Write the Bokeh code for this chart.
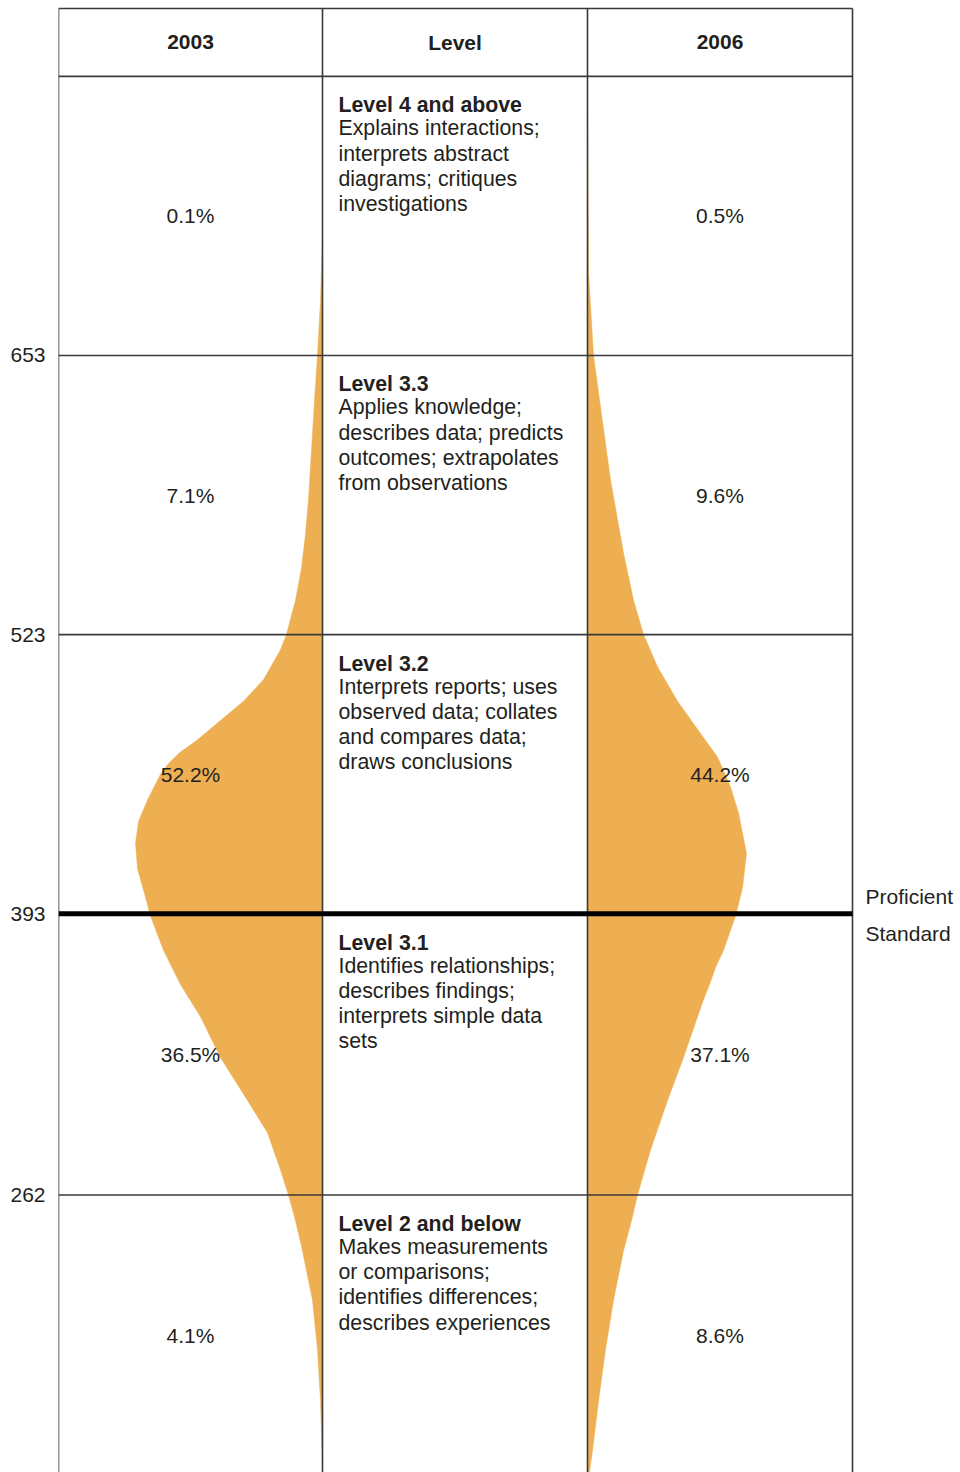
from bokeh.plotting import figure
from bokeh.models import Range1d, FixedTicker
from bokeh.core.properties import value
from bokeh.embed import file_html
from bokeh.resources import INLINE

# ---------------- data ----------------
columns = ["2003", "Level", "2006"]
levels = ["Level 4 and above", "Level 3.3", "Level 3.2", "Level 3.1", "Level 2 and below"]
descriptions = [
    "Explains interactions;\ninterprets abstract\ndiagrams; critiques\ninvestigations",
    "Applies knowledge;\ndescribes data; predicts\noutcomes; extrapolates\nfrom observations",
    "Interprets reports; uses\nobserved data; collates\nand compares data;\ndraws conclusions",
    "Identifies relationships;\ndescribes findings;\ninterprets simple data\nsets",
    "Makes measurements\nor comparisons;\nidentifies differences;\ndescribes experiences",
]
band_upper = [783, 653, 523, 393, 262]
band_lower = [653, 523, 393, 262, 131]
score_ticks = [653, 523, 393, 262]
proficient_standard = 393
pct_2003 = [0.1, 7.1, 52.2, 36.5, 4.1]
pct_2006 = [0.5, 9.6, 44.2, 37.1, 8.6]

# distribution outlines (score, relative density width)
score_2003 = [707, 702, 679, 653, 632, 609, 586, 570, 554, 539, 523, 516, 502, 492, 483,
              474, 468, 463, 458, 446, 436, 426, 414, 404, 392, 376, 360, 345, 326, 306,
              291, 275, 262, 250, 236, 213, 190, 166, 143, 133]
dens_2003 = [0, 0.5, 2, 5, 8, 11, 14, 17, 21, 27, 36, 42, 59, 79, 102,
             125, 143, 154, 162, 175, 184, 187, 185, 179, 172, 159, 142, 122, 102, 75,
             55, 43, 34, 27, 20, 10, 5, 2, 0.5, 0]
score_2006 = [776, 748, 692, 653, 629, 595, 561, 539, 523, 508, 492, 477, 466, 452,
              440, 421, 405, 392, 376, 368, 360, 353, 345, 326, 306, 283, 262, 250,
              236, 213, 190, 166, 143, 133]
dens_2006 = [0, 0.3, 1, 6, 13, 23, 36, 46, 56, 70, 90, 113, 130, 143,
             151, 159, 155, 148, 136, 128, 122, 116, 110, 96, 80, 63, 50, 44,
             36, 26, 18, 11, 5, 2]

# ---------------- layout / style ----------------
FONT = "Liberation Sans"
TXT = "#231f20"
LINE = "#3a3a3a"
ORANGE = "#EDAF51"
X_LEFT, X_DIV1, X_DIV2, X_RIGHT = 58, 322, 587, 852
Y_BOTTOM, Y_TOP = 132.76, 818.34
TABLE_TOP = 814.6

p = figure(width=960, height=1472, output_backend="svg", toolbar_location=None,
           x_range=Range1d(58, 960), y_range=Range1d(Y_BOTTOM, Y_TOP),
           min_border_left=58, min_border_right=0, min_border_top=0, min_border_bottom=0,
           x_axis_type=None)
p.outline_line_color = None
p.grid.visible = False
p.background_fill_color = "white"
p.border_fill_color = "white"

yax = p.yaxis[0]
yax.ticker = FixedTicker(ticks=score_ticks)
yax.axis_line_color = None
yax.major_tick_line_color = None
yax.minor_tick_line_color = None
yax.major_tick_out = 0
yax.major_tick_in = 0
yax.major_label_standoff = 13
yax.major_label_text_font = FONT
yax.major_label_text_font_size = "21px"
yax.major_label_text_color = TXT

# distributions
x03 = [X_DIV1 - d for d in dens_2003] + [X_DIV1, X_DIV1]
y03 = score_2003 + [score_2003[-1], score_2003[0]]
x06 = [X_DIV2 + d for d in dens_2006] + [X_DIV2, X_DIV2]
y06 = score_2006 + [score_2006[-1], score_2006[0]]
p.patch(x03, y03, fill_color=ORANGE, line_color=ORANGE, line_width=0.5, line_join="round")
p.patch(x06, y06, fill_color=ORANGE, line_color=ORANGE, line_width=0.5, line_join="round")

# table lines
h_lines = [TABLE_TOP, band_upper[0], band_upper[1], band_upper[2], band_upper[4]]
p.segment(x0=[X_LEFT] * len(h_lines), x1=[X_RIGHT] * len(h_lines), y0=h_lines, y1=h_lines,
          line_color=LINE, line_width=1.6)
vx = [X_LEFT, X_DIV1, X_DIV2, X_RIGHT]
p.segment(x0=vx, x1=vx, y0=[Y_BOTTOM] * 4, y1=[TABLE_TOP] * 4, line_color=LINE, line_width=1.6)
p.segment(x0=[X_LEFT], x1=[X_RIGHT], y0=[proficient_standard], y1=[proficient_standard],
          line_color="black", line_width=5)

# header
head_y = (band_upper[0] + TABLE_TOP) / 2
p.text(x=[(X_LEFT + X_DIV1) / 2, (X_DIV1 + X_DIV2) / 2, (X_DIV2 + X_RIGHT) / 2],
       y=[head_y] * 3, text=columns, text_font=value(FONT), text_font_size="21px",
       text_font_style="bold", text_color=TXT, text_align="center", text_baseline="middle")

# percentages
mids = [(a + b) / 2 for a, b in zip(band_upper, band_lower)]
p.text(x=[(X_LEFT + X_DIV1) / 2] * 5, y=mids, text=[f"{v}%" for v in pct_2003],
       text_font=value(FONT), text_font_size="21px", text_color=TXT,
       text_align="center", text_baseline="middle")
p.text(x=[(X_DIV2 + X_RIGHT) / 2] * 5, y=mids, text=[f"{v}%" for v in pct_2006],
       text_font=value(FONT), text_font_size="21px", text_color=TXT,
       text_align="center", text_baseline="middle")

# level titles and descriptions
p.text(x=[X_DIV1 + 16] * 5, y=band_upper, text=levels, text_font=value(FONT),
       text_font_size="21.3px", text_font_style="bold", text_color=TXT,
       text_align="left", text_baseline="middle", y_offset=29)
p.text(x=[X_DIV1 + 16] * 5, y=band_upper, text=descriptions, text_font=value(FONT),
       text_font_size="21.3px", text_color=TXT, text_align="left", text_baseline="top",
       y_offset=40, text_line_height=1.05)

# proficient standard label
p.text(x=[865, 865], y=[proficient_standard] * 2, text=["Proficient", "Standard"],
       text_font=value(FONT), text_font_size="21px", text_color=TXT,
       text_align="left", text_baseline="middle", y_offset=[-17, 20])

open("out.html", "w").write(file_html(p, INLINE))
